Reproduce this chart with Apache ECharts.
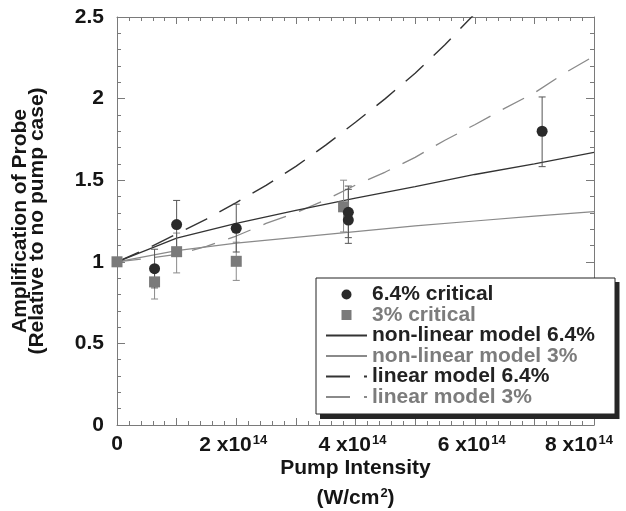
<!DOCTYPE html>
<html>
<head>
<meta charset="utf-8">
<script src="https://cdn.jsdelivr.net/npm/echarts@6/dist/echarts.min.js"></script>
<style>html,body{margin:0;padding:0;background:#fff;}#c{width:626px;height:511px;}</style>
</head>
<body>
<div id="c"></div>
<script>
// ---- data (x in W/cm^2) ----
var circX  = [0.63e14, 1.0e14, 2.0e14, 3.88e14, 3.88e14, 7.13e14];
var circY  = [0.958, 1.228, 1.205, 1.303, 1.256, 1.80];
var circLo = [0.84, 1.08, 1.06, 1.148, 1.113, 1.583];
var circHi = [1.077, 1.376, 1.353, 1.464, 1.444, 2.01];

var sqX  = [0, 0.63e14, 1.0e14, 2.0e14, 3.80e14];
var sqY  = [1.0, 0.877, 1.062, 1.003, 1.337];
var sqLo = [1.0, 0.772, 0.932, 0.886, 1.183];
var sqHi = [1.0, 0.975, 1.176, 1.12, 1.50];

var nlX    = [0, 1e14, 2e14, 3e14, 4e14, 5e14, 6e14, 7e14, 8e14];
var nl64Y  = [1.0, 1.145, 1.235, 1.315, 1.39, 1.46, 1.535, 1.60, 1.67];
var nl3Y   = [1.0, 1.068, 1.115, 1.15, 1.185, 1.22, 1.25, 1.28, 1.307];

var lin64X = [0, 0.5e14, 1e14, 1.5e14, 2e14, 2.5e14, 3e14, 3.5e14, 4e14, 4.5e14, 5e14, 5.5e14, 6e14];
var lin64Y = [1.0, 1.08, 1.17, 1.262, 1.363, 1.468, 1.585, 1.715, 1.855, 2.0, 2.155, 2.33, 2.52];
var lin3X  = [0, 0.5e14, 1e14, 1.5e14, 2e14, 2.5e14, 3e14, 3.5e14, 4e14, 4.5e14, 5e14, 5.5e14, 6e14, 6.5e14, 7e14, 7.5e14, 8e14];
var lin3Y  = [1.0, 1.02, 1.045, 1.095, 1.158, 1.235, 1.30, 1.38, 1.47, 1.55, 1.64, 1.745, 1.84, 1.94, 2.035, 2.155, 2.26];

var yTicks = ['0', '0.5', '1', '1.5', '2', '2.5'];
var xTickMantissa = ['0', '2', '4', '6', '8'];
var xExponent = '14';

var names = ['6.4% critical', '3% critical', 'non-linear model 6.4%', 'non-linear model 3%', 'linear model 6.4%', 'linear model 3%'];

// ---- styles ----
var FONT = 'Liberation Sans';
var DARK = '#2a2a2a';
var GRAY = '#7c7c7c';
var AX = '#7a7a7a';
var TXT = '#151515';

function zip(xs, ys) { return xs.map(function (x, i) { return [x, ys[i]]; }); }

function errSeries(xs, lo, hi, color) {
  return {
    type: 'custom', silent: true, z: 3,
    renderItem: function (params, api) {
      var x = api.value(0), l = api.value(1), h = api.value(2);
      if (l === h) return null;
      var p1 = api.coord([x, l]), p2 = api.coord([x, h]);
      var w = 3.5;
      var st = { stroke: color, lineWidth: 1 };
      return { type: 'group', children: [
        { type: 'line', shape: { x1: p1[0], y1: p1[1], x2: p2[0], y2: p2[1] }, style: st },
        { type: 'line', shape: { x1: p1[0] - w, y1: p1[1], x2: p1[0] + w, y2: p1[1] }, style: st },
        { type: 'line', shape: { x1: p2[0] - w, y1: p2[1], x2: p2[0] + w, y2: p2[1] }, style: st }
      ]};
    },
    encode: { x: 0, y: [1, 2] },
    data: xs.map(function (x, i) { return [x, lo[i], hi[i]]; })
  };
}

function lineSeries(name, xs, ys, color, width, dashed) {
  return {
    name: name, type: 'line', symbol: 'none', z: 2,
    data: zip(xs, ys),
    lineStyle: { color: color, width: width, type: dashed ? [24, 14] : 'solid' },
    itemStyle: { color: color },
    emphasis: { disabled: true }
  };
}

var chart = echarts.init(document.getElementById('c'), null, { renderer: 'canvas' });

var xLabelFmt = function (v) {
  var m = Math.round(v / 1e14);
  if (m === 0) return '{b|' + xTickMantissa[0] + '}';
  if (m % 2 !== 0) return '';
  var last = (m / 2 === xTickMantissa.length - 1);
  return '{b|' + xTickMantissa[m / 2] + ' x10}{' + (last ? 's8' : 's') + '|' + xExponent + '}';
};
var yLabelFmt = function (v) {
  var i = Math.round(v / 0.5);
  return yTicks[i] !== undefined ? yTicks[i] : '';
};

var baseX = {
  type: 'value', min: 0, max: 8e14, interval: 1e14,
  splitLine: { show: false },
  axisLine: { show: true, onZero: false, lineStyle: { color: AX, width: 1 } },
  axisTick: { show: true, inside: true, length: 7, lineStyle: { color: AX } },
  minorTick: { show: true, splitNumber: 5, length: 4, lineStyle: { color: AX } }
};
var baseY = {
  type: 'value', min: 0, max: 2.5, interval: 0.5,
  splitLine: { show: false },
  axisLine: { show: true, onZero: false, lineStyle: { color: AX, width: 1 } },
  axisTick: { show: true, inside: true, length: 8, lineStyle: { color: AX } },
  minorTick: { show: true, splitNumber: 5, length: 4, lineStyle: { color: AX } }
};

var hidden = { color: 'rgba(0,0,0,0)', borderWidth: 0, opacity: 0 };
var supStyle = { fontFamily: FONT, fontWeight: 'bold', fontSize: 13, color: TXT };

var option = {
  backgroundColor: '#fff',
  animation: false,
  grid: { left: 117, right: 32, top: 17, bottom: 86, containLabel: false, outerBoundsMode: 'none' },
  xAxis: [
    Object.assign({}, baseX, {
      position: 'bottom',
      axisLabel: {
        formatter: xLabelFmt, margin: 9, color: TXT,
        fontFamily: FONT, fontWeight: 'bold', fontSize: 21,
        rich: {
          b: { fontFamily: FONT, fontWeight: 'bold', fontSize: 21, color: TXT },
          s: Object.assign({ padding: [0, 6, 10, 1] }, supStyle),
          s8: Object.assign({ padding: [0, 30, 10, 1] }, supStyle)
        }
      },
      name: 'Pump Intensity\n(W/cm{s|2})',
      nameLocation: 'middle', nameGap: 28, nameMoveOverlap: false,
      nameTextStyle: {
        fontFamily: FONT, fontWeight: 'bold', fontSize: 21, color: TXT, lineHeight: 30,
        rich: { s: Object.assign({ padding: [0, 0, 10, 1] }, supStyle) }
      }
    }),
    Object.assign({}, baseX, { position: 'top', axisLabel: { show: false } })
  ],
  yAxis: [
    Object.assign({}, baseY, {
      position: 'left',
      axisLabel: { formatter: yLabelFmt, margin: 13, color: TXT, fontFamily: FONT, fontWeight: 'bold', fontSize: 21 },
      name: 'Amplification of Probe\n(Relative to no pump case)',
      nameLocation: 'middle', nameGap: 71,
      nameTextStyle: { fontFamily: FONT, fontWeight: 'bold', fontSize: 21, color: TXT, lineHeight: 17 }
    }),
    Object.assign({}, baseY, { position: 'right', axisLabel: { show: false } })
  ],
  graphic: [
    { type: 'rect', z: 11, silent: true, shape: { x: 316, y: 278, width: 299, height: 136 }, style: { fill: '#fff', stroke: '#222', lineWidth: 1 } },
    { type: 'rect', z: 40, silent: true, shape: { x: 615, y: 282, width: 4.5, height: 137 }, style: { fill: '#262626' } },
    { type: 'rect', z: 40, silent: true, shape: { x: 320, y: 414, width: 299, height: 5 }, style: { fill: '#262626' } }
  ],
  legend: {
    orient: 'vertical', left: 316, top: 278, z: 20,
    itemWidth: 41, itemHeight: 10, itemGap: -0.5,
    padding: [6, 18, 9, 9],
    symbolKeepAspect: true,
    selectedMode: false,
    textStyle: { fontFamily: FONT, fontWeight: 'bold', fontSize: 21, lineHeight: 18.8 },
    data: [
      { name: names[0], icon: 'circle', textStyle: { color: '#222' } },
      { name: names[1], icon: 'path://M0,0L10,0L10,10L0,10Z', symbolKeepAspect: true, textStyle: { color: GRAY } },
      { name: names[2], itemStyle: hidden, textStyle: { color: '#222' } },
      { name: names[3], itemStyle: hidden, textStyle: { color: GRAY } },
      { name: names[4], itemStyle: hidden, textStyle: { color: '#222' } },
      { name: names[5], itemStyle: hidden, textStyle: { color: GRAY } }
    ]
  },
  series: [
    lineSeries(names[3], nlX, nl3Y, '#8a8a8a', 1.2, false),
    lineSeries(names[5], lin3X, lin3Y, '#8a8a8a', 1.3, true),
    lineSeries(names[2], nlX, nl64Y, '#333', 1.3, false),
    lineSeries(names[4], lin64X, lin64Y, '#333', 1.4, true),
    errSeries(sqX, sqLo, sqHi, '#8a8a8a'),
    errSeries(circX, circLo, circHi, '#555'),
    {
      name: names[1], type: 'scatter', symbol: 'rect', symbolSize: 11, z: 4,
      itemStyle: { color: '#7a7a7a', opacity: 1 },
      data: zip(sqX, sqY)
    },
    {
      name: names[0], type: 'scatter', symbol: 'circle', symbolSize: 11, z: 5,
      itemStyle: { color: DARK, opacity: 1 },
      data: zip(circX, circY)
    }
  ]
};
chart.setOption(option);
</script>
</body>
</html>
